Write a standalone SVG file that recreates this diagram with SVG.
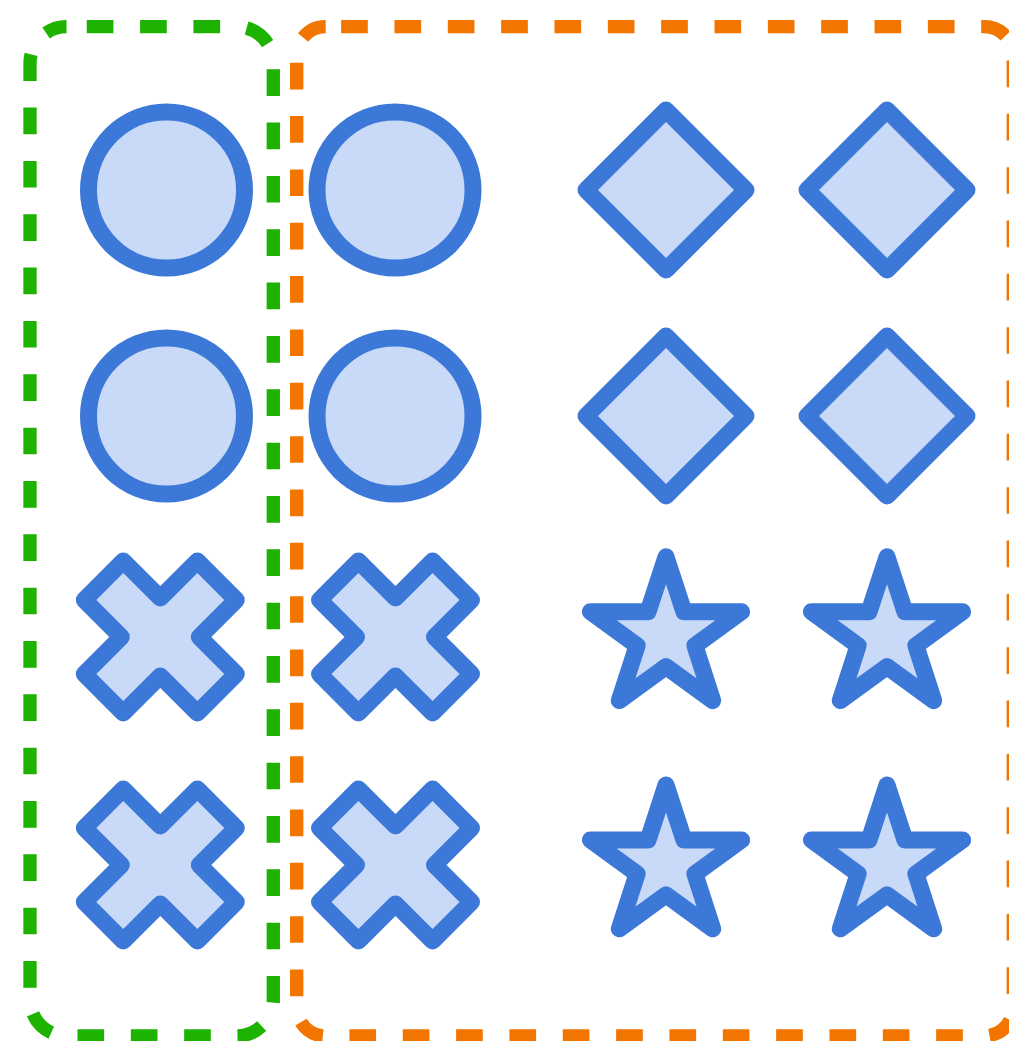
<svg xmlns="http://www.w3.org/2000/svg" xmlns:xlink="http://www.w3.org/1999/xlink" width="1009" height="1041" viewBox="0 0 1009 1041">
  <style>
    .box { fill: none; stroke-width: 13.33; stroke-dasharray: 26.67 26.67; }
    .green { stroke: #1db300; }
    .orange { stroke: #f27500; }
    .shape { fill: #c9daf8; stroke: #3c78d8; stroke-width: 17; stroke-linejoin: round; }
  </style>
  <defs>
    <circle id="circ" cx="0" cy="0" r="78" class="shape"/>
    <path id="diam" class="shape" d="M0,-80 L80,0 L0,80 L-80,0 Z"/>
    <path id="cross" class="shape" d="M0,-39 L37.1,-76 L76,-37.1 L39,0 L76,37.1 L37.1,76 L0,39 L-37.1,76 L-76,37.1 L-39,0 L-76,-37.1 L-37.1,-76 Z"/>
    <path id="star" class="shape" d="M0,-79.5 L17.9,-24.6 L75.6,-24.6 L28.9,9.4 L46.7,64.3 L0,30.4 L-46.7,64.3 L-28.9,9.4 L-75.6,-24.6 L-17.9,-24.6 Z"/>
  </defs>
  <g id="group-green">
    <rect class="box green" x="30" y="26.7" width="243.3" height="1009.3" rx="36.5" ry="36.5" stroke-dashoffset="33.1"/>
  </g>
  <g id="group-orange">
    <rect class="box orange" x="296.7" y="26.7" width="716.6" height="1009.3" rx="29" ry="29" stroke-dashoffset="37.9"/>
  </g>
  <g id="connectors"/>
  <g id="circle-1"><use xlink:href="#circ" href="#circ" x="166.5" y="190"/></g>
  <g id="circle-2"><use xlink:href="#circ" href="#circ" x="395" y="190"/></g>
  <g id="circle-3"><use xlink:href="#circ" href="#circ" x="166.5" y="416"/></g>
  <g id="circle-4"><use xlink:href="#circ" href="#circ" x="395" y="416"/></g>
  <g id="diamond-1"><use xlink:href="#diam" href="#diam" x="666" y="190"/></g>
  <g id="diamond-2"><use xlink:href="#diam" href="#diam" x="887" y="190"/></g>
  <g id="diamond-3"><use xlink:href="#diam" href="#diam" x="666" y="416"/></g>
  <g id="diamond-4"><use xlink:href="#diam" href="#diam" x="887" y="416"/></g>
  <g id="cross-1"><use xlink:href="#cross" href="#cross" x="160.3" y="637"/></g>
  <g id="cross-2"><use xlink:href="#cross" href="#cross" x="395.5" y="637"/></g>
  <g id="cross-3"><use xlink:href="#cross" href="#cross" x="160.3" y="865"/></g>
  <g id="cross-4"><use xlink:href="#cross" href="#cross" x="395.5" y="865"/></g>
  <g id="star-1"><use xlink:href="#star" href="#star" x="666" y="636.3"/></g>
  <g id="star-2"><use xlink:href="#star" href="#star" x="887" y="636.3"/></g>
  <g id="star-3"><use xlink:href="#star" href="#star" x="666" y="864.5"/></g>
  <g id="star-4"><use xlink:href="#star" href="#star" x="887" y="864.5"/></g>
</svg>
